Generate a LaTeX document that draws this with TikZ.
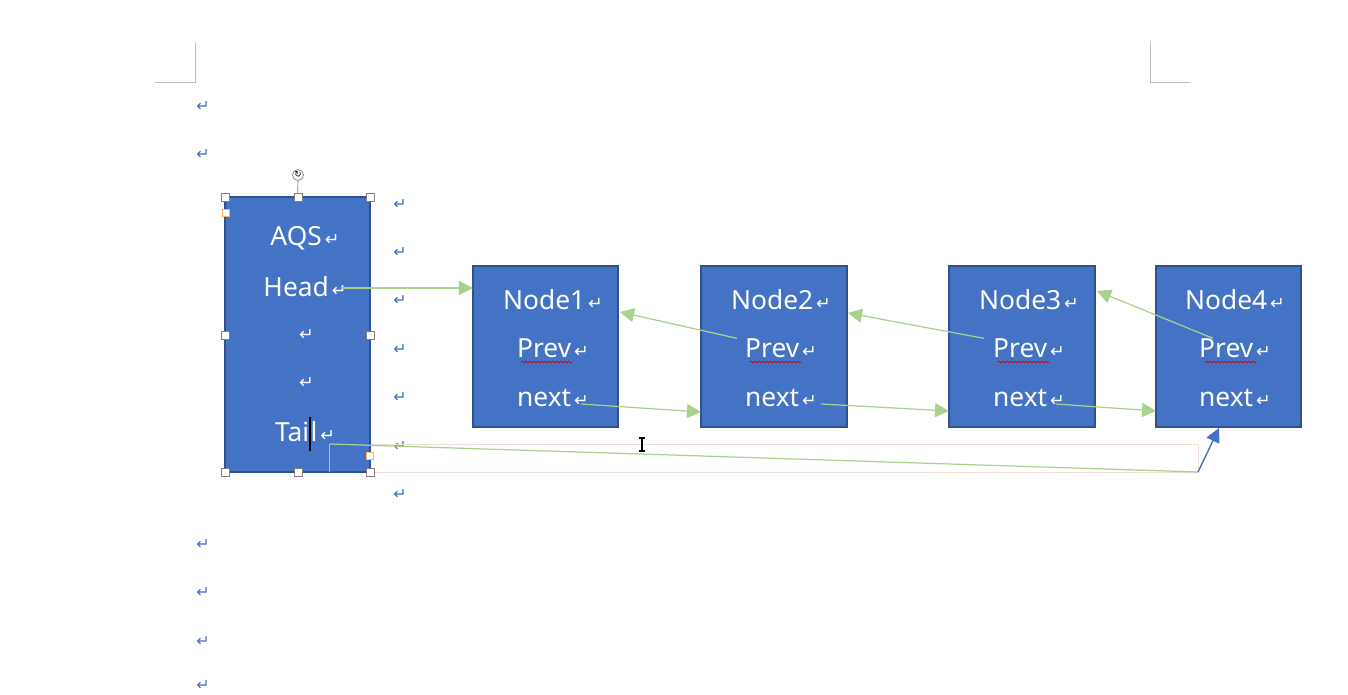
\documentclass[tikz,border=0pt]{standalone}
\usepackage{fontspec}
\setmainfont{Noto Sans}
\newfontfamily\symf{DejaVu Sans}
\usetikzlibrary{arrows.meta,decorations.pathmorphing,calc}
\definecolor{boxblue}{HTML}{4472C4}
\definecolor{boxedge}{HTML}{2F528F}
\definecolor{ggreen}{HTML}{A9D18E}
\definecolor{pmblue}{HTML}{3F6FC6}
\definecolor{faint}{RGB}{238,222,212}
\definecolor{markgray}{RGB}{190,190,190}
\newcommand{\pmw}{{\symf\fontsize{10}{10}\selectfont\,↵}}
\newcommand{\txtcursor}{{\color{black}\rule[-5pt]{0.8pt}{19pt}}}
\tikzset{
  box/.style={draw=boxedge, fill=boxblue, line width=0.8pt, inner sep=0pt, outer sep=0pt, anchor=north west},
  lbl/.style={text=white, font=\fontsize{15}{18}\selectfont, inner sep=1pt},
  pmk/.style={text=pmblue, font=\symf\fontsize{9}{10}\selectfont, inner sep=0pt},
  gar/.style={draw=ggreen, line width=0.7pt, -{Triangle[length=8pt,width=8pt]}},
  bar/.style={draw=boxblue, line width=0.8pt, -{Triangle[length=8pt,width=8pt]}},
  wavy/.style={draw=red!80!black, line width=0.4pt, decorate, decoration={snake, amplitude=0.5pt, segment length=2.2pt}},
  handle/.style={draw=gray, fill=white, line width=0.4pt, minimum size=0.16cm, inner sep=0pt},
  corner/.style={draw=markgray, line width=0.5pt}
}
\begin{document}
\begin{tikzpicture}[x=0.02cm,y=-0.02cm]
\useasboundingbox[fill=white] (0,0) rectangle (1348,694);
% page corner marks
\draw[corner] (195,42) -- (195,82) -- (155,82);
\draw[corner] (1150,42) -- (1150,82) -- (1190,82);
% paragraph marks, left margin
\foreach \yy [count=\i] in {107,155,545,593,642,686}
  \node[pmk] (lm\i) at (203,\yy) {↵};
% paragraph marks, column
\foreach \yy [count=\i] in {205,253,301,350,398,447,495}
  \node[pmk] (cm\i) at (400,\yy) {↵};
% faint text-box border
\draw[faint, line width=0.5pt] (329,444) -- (1198,444) -- (1198,472) -- (370,472);
% boxes
\node[box, minimum width=2.9cm, minimum height=5.5cm] (aqsbox) at (225,197) {};
\node[box, minimum width=2.9cm, minimum height=3.22cm] (n1) at (473,266) {};
\node[box, minimum width=2.92cm, minimum height=3.22cm] (n2) at (701,266) {};
\node[box, minimum width=2.92cm, minimum height=3.22cm] (n3) at (949,266) {};
\node[box, minimum width=2.9cm, minimum height=3.22cm] (n4) at (1156,266) {};
\draw[markgray, line width=0.5pt] (329,444) -- (329,472);
% AQS texts
\node[lbl] (aqs) at (305,238) {AQS\pmw};
\node[lbl] (head) at (305,287) {Head\pmw};
\node[lbl] (e1) at (305,335) {\pmw};
\node[lbl] (e2) at (305,383) {\pmw};
\node[lbl] (tail) at (305,434) {Tai\txtcursor l\pmw};
% node texts
\foreach \n/\cx in {1/553,2/781,3/1029,4/1235}{
  \node[lbl] (t\n) at (\cx,300) {Node\n\pmw};
  \node[lbl] (p\n) at (\cx,348) {Prev\pmw};
  \node[lbl] (x\n) at (\cx,398) {next\pmw};
}
% spell-check underlines
\foreach \a in {521,750,998,1205}
  \draw[wavy] (\a,362) -- (\a+51,362);
% connectors
\draw[gar] ($(head.east)+(-8,1)$) -- ($(n1.north west)+(0,22)$);
\draw[gar] ($(p2.north west)+(-6,2)$) -- ($(n1.north east)+(2,46)$);
\draw[gar] ($(p3.north west)+(-7,2)$) -- ($(n2.north east)+(1,47)$);
\draw[gar] ($(p4.north west)+(16,2)$) -- ($(n3.north east)+(2,25)$);
\draw[gar] ($(x1.east)+(-10,6)$) -- ($(n2.north west)+(0,146)$);
\draw[gar] ($(x2.east)+(2,6)$) -- ($(n3.north west)+(0,145)$);
\draw[gar] ($(x3.east)+(-11,6)$) -- ($(n4.north west)+(0,145)$);
\coordinate (bend) at (1198,472);
\draw[ggreen, line width=0.7pt] ($(tail.east)+(-7,10)$) -- (bend);
\draw[bar] (bend) -- ($(n4.south west)+(63,1)$);
% I-beam pointer
\draw[black, line width=0.6pt] (642,438) -- (642,451) (639,438) -- (645,438) (639,451) -- (645,451);
% selection handles
\draw[gray, line width=0.4pt] (298,181) -- (aqsbox.north);
\node[draw=gray, fill=white, circle, minimum size=0.22cm, inner sep=0pt, font=\symf\fontsize{5}{5}\selectfont] (rot) at (298,175) {↻};
\foreach \hx/\hy [count=\i] in {225/197,298/197,370/197,225/335,370/335,225/472,298/472,370/472}
  \node[handle] (h\i) at (\hx,\hy) {};
\node[handle, draw=orange!60, minimum size=0.14cm] (oh1) at (226,213) {};
\node[handle, draw=orange!60, minimum size=0.14cm] (oh2) at (370,456) {};
\end{tikzpicture}
\end{document}
